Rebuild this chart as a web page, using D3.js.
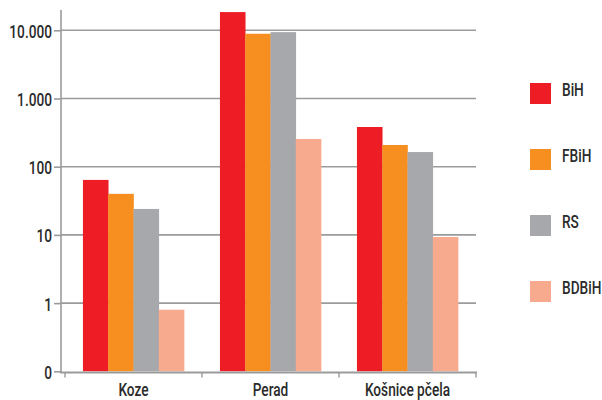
<!DOCTYPE html>
<html>
<head>
<meta charset="utf-8">
<script src="https://cdn.jsdelivr.net/npm/d3@7/dist/d3.min.js"></script>
<style>
html,body{margin:0;padding:0;background:#fff;}
svg text{font-family:Roboto,"Liberation Sans",sans-serif;fill:#2b2b2b;font-weight:500;font-size:19px;}
</style>
</head>
<body>
<svg id="chart" width="602" height="400"></svg>
<script>
const categories = ["Koze", "Perad", "Košnice pčela"];
const seriesNames = ["BiH", "FBiH", "RS", "BDBiH"];
const BiH   = [64, 18500, 382];
const FBiH  = [40, 8900, 208];
const RS    = [24, 9400, 164];
const BDBiH = [0.8, 255, 9.3];
const tickValues = [0.1, 1, 10, 100, 1000, 10000];
const tickLabels = ["0", "1", "10", "100", "1.000", "10.000"];
const colors = ["#ee1d25", "#f68f1f", "#a7a8ab", "#f8aa8e"];

const seriesValues = [BiH, FBiH, RS, BDBiH];
const svg = d3.select("#chart");
const SX = 0.72;
function condense(sel) {
  sel.each(function() {
    const t = d3.select(this);
    const ax = +t.attr("x") || 0;
    t.attr("transform", `translate(${ax},0) scale(${SX},1) translate(${-ax},0)`);
  });
}

const y = d3.scaleLog().domain([0.1, 10000]).range([371.3, 30.3]);
const x0 = d3.scaleBand().domain(categories).range([65, 476]);
const x1 = d3.scaleBand().domain(seriesNames).range([0, x0.bandwidth()]).paddingInner(0).paddingOuter(0.71);
const color = d3.scaleOrdinal().domain(seriesNames).range(colors);

// gridlines
svg.append("g").selectAll("line").data(tickValues.slice(1)).join("line")
  .attr("x1", 61).attr("x2", 476)
  .attr("y1", d => y(d)).attr("y2", d => y(d))
  .attr("stroke", "#9b9b9b").attr("stroke-width", 1.6);

// y axis
const yAxis = d3.axisLeft(y).tickValues(tickValues).tickSize(7).tickPadding(2)
  .tickFormat((d, i) => tickLabels[i]);
const gy = svg.append("g").attr("transform", "translate(61,0)").call(yAxis);
gy.select(".domain").remove();
gy.selectAll(".tick line").attr("stroke", "#9b9b9b").attr("stroke-width", 1.6);
gy.selectAll(".tick text").attr("dy", "0.37em").attr("font-size", null).attr("font-family", null).call(condense);
svg.append("line").attr("x1", 61).attr("x2", 61).attr("y1", 10).attr("y2", 372.5)
  .attr("stroke", "#9b9b9b").attr("stroke-width", 1.6);

// bars
const groups = svg.append("g").selectAll("g").data(categories).join("g")
  .attr("transform", d => `translate(${x0(d)},0)`);
groups.selectAll("rect")
  .data((c, ci) => seriesNames.map((s, si) => ({s, v: seriesValues[si][ci]})))
  .join("rect")
  .attr("x", d => x1(d.s))
  .attr("width", x1.bandwidth() + 0.3)
  .attr("y", d => y(d.v))
  .attr("height", d => y(0.1) - y(d.v))
  .attr("fill", d => color(d.s));

// x axis
const xAxis = d3.axisBottom(x0).tickSize(0).tickPadding(10);
const gx = svg.append("g").attr("transform", "translate(0,372.5)").call(xAxis);
gx.select(".domain").remove();
gx.selectAll(".tick text").attr("y", 24).attr("dy", null).attr("font-size", null).attr("font-family", null).call(condense);
svg.append("line").attr("x1", 60).attr("x2", 477).attr("y1", 372.5).attr("y2", 372.5)
  .attr("stroke", "#9b9b9b").attr("stroke-width", 1.8);
const bounds = [x0.range()[0]].concat(categories.map(c => x0(c) + x0.bandwidth()));
svg.append("g").selectAll("line").data(bounds).join("line")
  .attr("x1", d => d).attr("x2", d => d).attr("y1", 372).attr("y2", 377.5)
  .attr("stroke", "#9b9b9b").attr("stroke-width", 1.4);

// legend
const ly = d3.scalePoint().domain(seriesNames).range([93.5, 291.5]);
const leg = svg.append("g").selectAll("g").data(seriesNames).join("g")
  .attr("transform", d => `translate(530,${ly(d)})`);
leg.append("rect").attr("x", 0).attr("y", -10.5).attr("width", 21).attr("height", 21)
  .attr("fill", d => color(d));
leg.append("text").attr("x", 32).attr("y", 2.5)
  .text(d => d).call(condense);
</script>
</body>
</html>
